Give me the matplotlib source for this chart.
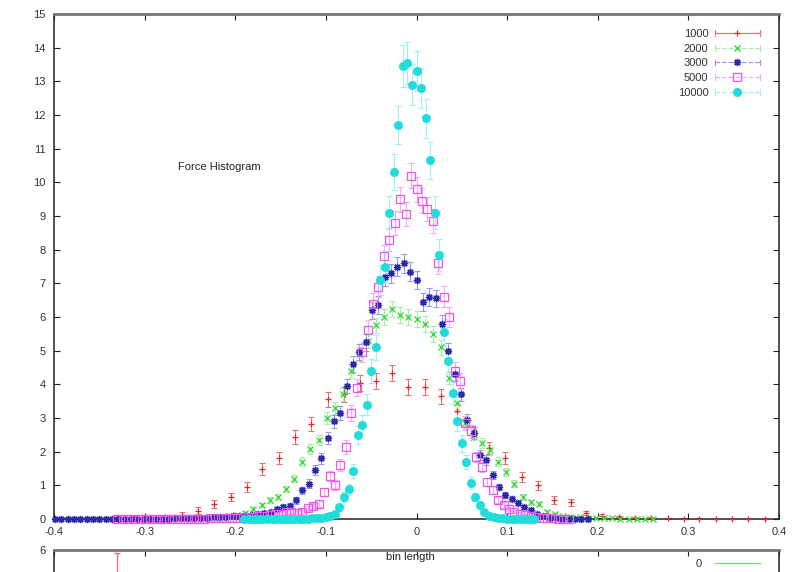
import matplotlib
matplotlib.use("Agg")
import matplotlib.pyplot as plt
from matplotlib.lines import Line2D
from matplotlib.legend_handler import HandlerBase

plt.rcParams['font.family'] = ['Liberation Sans', 'DejaVu Sans']

# ---------------- data ----------------
x_1000 = [-0.384, -0.366, -0.348, -0.330, -0.312, -0.295, -0.277, -0.259, -0.241, -0.223,
          -0.205, -0.187, -0.170, -0.152, -0.134, -0.116, -0.098, -0.080, -0.062, -0.045,
          -0.027, -0.009, 0.009, 0.027, 0.045, 0.062, 0.080, 0.098, 0.116, 0.134,
          0.152, 0.170, 0.187, 0.205, 0.223, 0.241, 0.259, 0.277, 0.295, 0.312,
          0.330, 0.348, 0.366, 0.384]
y_1000 = [0, 0, 0.01, 0.02, 0.03, 0.04, 0.07, 0.12, 0.25, 0.45,
          0.65, 0.95, 1.48, 1.81, 2.44, 2.82, 3.55, 3.7, 4.04, 4.1,
          4.34, 3.92, 3.92, 3.65, 3.2, 2.55, 2.1, 1.81, 1.25, 1.0,
          0.56, 0.5, 0.18, 0.09, 0.06, 0.04, 0.03, 0.02, 0.01, 0.01,
          0, 0, 0, 0]
e_1000 = [0.01, 0.01, 0.02, 0.03, 0.04, 0.05, 0.06, 0.08, 0.1, 0.12,
          0.13, 0.15, 0.17, 0.18, 0.2, 0.2, 0.22, 0.22, 0.23, 0.23,
          0.24, 0.23, 0.23, 0.22, 0.21, 0.2, 0.18, 0.17, 0.15, 0.14,
          0.11, 0.1, 0.07, 0.05, 0.04, 0.03, 0.03, 0.02, 0.02, 0.02,
          0.01, 0.01, 0.01, 0.01]

x_2000 = [-0.297, -0.288, -0.279, -0.270, -0.261, -0.252, -0.243, -0.234, -0.225, -0.216,
          -0.207, -0.198, -0.189, -0.180, -0.171, -0.162, -0.153, -0.144, -0.135, -0.126,
          -0.117, -0.108, -0.099, -0.090, -0.081, -0.072, -0.063, -0.054, -0.045, -0.036,
          -0.027, -0.018, -0.009, 0.000, 0.009, 0.018, 0.027, 0.036, 0.045, 0.054,
          0.063, 0.072, 0.081, 0.090, 0.099, 0.108, 0.117, 0.126, 0.135, 0.144,
          0.153, 0.162, 0.171, 0.180, 0.189, 0.198, 0.207, 0.216, 0.225, 0.234,
          0.243, 0.252, 0.261]
y_2000 = [0, 0, 0.01, 0.01, 0.02, 0.02, 0.03, 0.04, 0.05, 0.07,
          0.1, 0.13, 0.18, 0.3, 0.42, 0.56, 0.65, 0.89, 1.2, 1.7,
          2.08, 2.35, 3.0, 3.3, 3.7, 4.4, 4.9, 5.3, 5.75, 6.0,
          6.25, 6.05, 6.0, 5.95, 5.8, 5.5, 5.1, 4.2, 3.45, 2.85,
          2.5, 2.25, 2.05, 1.7, 1.4, 1.05, 0.65, 0.5, 0.45, 0.22,
          0.15, 0.1, 0.07, 0.05, 0.04, 0.03, 0.03, 0.02, 0.01, 0.01,
          0, 0, 0]
e_2000 = [0.01, 0.01, 0.01, 0.01, 0.02, 0.02, 0.02, 0.03, 0.03, 0.03,
          0.04, 0.05, 0.05, 0.06, 0.07, 0.08, 0.09, 0.1, 0.11, 0.13,
          0.14, 0.15, 0.17, 0.18, 0.19, 0.2, 0.21, 0.22, 0.23, 0.24,
          0.24, 0.24, 0.24, 0.24, 0.24, 0.23, 0.22, 0.2, 0.18, 0.17,
          0.16, 0.15, 0.14, 0.13, 0.12, 0.1, 0.08, 0.07, 0.07, 0.05,
          0.04, 0.03, 0.03, 0.02, 0.02, 0.02, 0.02, 0.01, 0.01, 0.01,
          0.01, 0.01, 0.01]

x_3000 = [-0.399, -0.392, -0.385, -0.378, -0.371, -0.364, -0.357, -0.350, -0.343, -0.336,
          -0.329, -0.322, -0.315, -0.308, -0.301, -0.294, -0.287, -0.280, -0.273, -0.266,
          -0.259, -0.252, -0.245, -0.238, -0.231, -0.224, -0.217, -0.210, -0.203, -0.196,
          -0.189, -0.182, -0.175, -0.168, -0.161, -0.154, -0.147, -0.140, -0.133, -0.126,
          -0.119, -0.112, -0.105, -0.098, -0.091, -0.084, -0.077, -0.070, -0.063, -0.056,
          -0.049, -0.042, -0.035, -0.028, -0.021, -0.014, -0.007, 0.000, 0.007, 0.014,
          0.021, 0.028, 0.035, 0.042, 0.049, 0.056, 0.063, 0.070, 0.077, 0.084,
          0.091, 0.098, 0.105, 0.112, 0.119, 0.126, 0.133, 0.140, 0.147, 0.154,
          0.161, 0.168, 0.175, 0.182, 0.189]
y_3000 = [0, 0, 0, 0, 0, 0, 0, 0, 0, 0,
          0, 0, 0.01, 0, 0.01, 0.01, 0.01, 0.01, 0.01, 0.02,
          0.02, 0.02, 0.03, 0.03, 0.04, 0.05, 0.06, 0.07, 0.08, 0.09,
          0.1, 0.12, 0.15, 0.17, 0.2, 0.3, 0.36, 0.4, 0.55, 0.85,
          1.05, 1.45, 1.8, 2.4, 2.9, 3.15, 3.95, 4.6, 4.95, 5.25,
          6.2, 6.35, 7.2, 7.3, 7.5, 7.6, 7.35, 7.1, 6.45, 6.6,
          6.55, 5.8, 5.0, 4.3, 3.7, 2.95, 2.55, 1.9, 1.75, 1.3,
          0.95, 0.7, 0.6, 0.48, 0.36, 0.27, 0.15, 0.08, 0.04, 0.02,
          0.01, 0.01, 0, 0, 0]
e_3000 = [0, 0, 0, 0, 0, 0, 0, 0, 0, 0,
          0, 0, 0.01, 0, 0.01, 0.01, 0.01, 0.01, 0.01, 0.01,
          0.01, 0.01, 0.02, 0.02, 0.02, 0.02, 0.03, 0.03, 0.03, 0.03,
          0.04, 0.04, 0.05, 0.05, 0.06, 0.07, 0.08, 0.08, 0.09, 0.11,
          0.13, 0.14, 0.16, 0.18, 0.19, 0.2, 0.22, 0.23, 0.24, 0.25,
          0.26, 0.27, 0.28, 0.28, 0.28, 0.28, 0.28, 0.27, 0.26, 0.26,
          0.26, 0.25, 0.23, 0.21, 0.2, 0.18, 0.17, 0.14, 0.14, 0.12,
          0.1, 0.09, 0.08, 0.07, 0.06, 0.05, 0.04, 0.03, 0.02, 0.01,
          0.01, 0.01, 0, 0, 0]

x_5000 = [-0.330, -0.324, -0.318, -0.312, -0.306, -0.300, -0.294, -0.288, -0.282, -0.276,
          -0.270, -0.264, -0.258, -0.252, -0.246, -0.240, -0.234, -0.228, -0.222, -0.216,
          -0.210, -0.204, -0.198, -0.192, -0.186, -0.180, -0.174, -0.168, -0.162, -0.156,
          -0.150, -0.144, -0.138, -0.132, -0.126, -0.120, -0.114, -0.108, -0.102, -0.096,
          -0.090, -0.084, -0.078, -0.072, -0.066, -0.060, -0.054, -0.048, -0.042, -0.036,
          -0.030, -0.024, -0.018, -0.012, -0.006, 0.000, 0.006, 0.012, 0.018, 0.024,
          0.030, 0.036, 0.042, 0.048, 0.054, 0.060, 0.066, 0.072, 0.078, 0.084,
          0.090, 0.096, 0.102, 0.108, 0.114, 0.120, 0.126, 0.132, 0.138, 0.144,
          0.150, 0.156, 0.162, 0.168]
y_5000 = [0, 0, 0, 0, 0, 0, 0, 0, 0, 0,
          0, 0, 0, 0.01, 0.01, 0.01, 0.01, 0.02, 0.02, 0.02,
          0.03, 0.03, 0.04, 0.05, 0.05, 0.06, 0.08, 0.1, 0.12, 0.14,
          0.16, 0.2, 0.22, 0.18, 0.2, 0.32, 0.4, 0.45, 0.8, 1.28,
          1.0, 1.6, 2.14, 3.15, 3.9, 4.95, 5.6, 6.4, 6.9, 7.8,
          8.3, 8.8, 9.5, 9.05, 10.2, 9.8, 9.45, 9.2, 8.85, 7.6,
          6.6, 6.0, 4.4, 4.1, 2.85, 2.6, 1.84, 1.55, 1.1, 0.86,
          0.56, 0.42, 0.3, 0.22, 0.16, 0.12, 0.09, 0.06, 0.04, 0.03,
          0.02, 0.01, 0.01, 0]
e_5000 = [0, 0, 0, 0, 0, 0, 0, 0, 0, 0,
          0, 0, 0, 0.01, 0.01, 0.01, 0.01, 0.02, 0.02, 0.02,
          0.02, 0.02, 0.03, 0.03, 0.03, 0.03, 0.04, 0.04, 0.05, 0.05,
          0.06, 0.06, 0.07, 0.06, 0.06, 0.08, 0.09, 0.1, 0.13, 0.16,
          0.15, 0.18, 0.2, 0.23, 0.25, 0.28, 0.3, 0.31, 0.32, 0.34,
          0.35, 0.36, 0.37, 0.36, 0.38, 0.37, 0.37, 0.36, 0.36, 0.33,
          0.31, 0.3, 0.26, 0.25, 0.2, 0.19, 0.16, 0.15, 0.12, 0.11,
          0.09, 0.08, 0.06, 0.05, 0.04, 0.04, 0.03, 0.02, 0.02, 0.02,
          0.01, 0.01, 0.01, 0]

x_10000 = [-0.190, -0.185, -0.180, -0.175, -0.170, -0.165, -0.160, -0.155, -0.150, -0.145,
           -0.140, -0.135, -0.130, -0.125, -0.120, -0.115, -0.110, -0.105, -0.100, -0.095,
           -0.090, -0.085, -0.080, -0.075, -0.070, -0.065, -0.060, -0.055, -0.050, -0.045,
           -0.040, -0.035, -0.030, -0.025, -0.020, -0.015, -0.010, -0.005, 0.000, 0.005,
           0.010, 0.015, 0.020, 0.025, 0.030, 0.035, 0.040, 0.045, 0.050, 0.055,
           0.060, 0.065, 0.070, 0.075, 0.080, 0.085, 0.090, 0.095, 0.100, 0.105,
           0.110, 0.115, 0.120, 0.125, 0.130]
y_10000 = [0, 0, 0, 0, 0, 0, 0, 0, 0, 0,
           0, 0, 0, 0.01, 0.01, 0.02, 0.02, 0.03, 0.05, 0.08,
           0.15, 0.35, 0.65, 0.88, 1.42, 2.5, 2.8, 3.4, 4.4, 5.1,
           7.1, 7.5, 9.1, 10.3, 11.7, 13.45, 13.55, 12.9, 13.3, 12.8,
           11.9, 10.65, 9.1, 7.85, 5.55, 4.7, 3.75, 2.9, 2.25, 1.7,
           1.07, 0.65, 0.42, 0.22, 0.1, 0.05, 0.03, 0.02, 0.01, 0.01,
           0, 0, 0, 0, 0]
e_10000 = [0, 0, 0, 0, 0, 0, 0, 0, 0, 0,
           0, 0, 0, 0.01, 0.01, 0.02, 0.02, 0.03, 0.04, 0.05,
           0.07, 0.1, 0.14, 0.16, 0.2, 0.27, 0.28, 0.3, 0.35, 0.37,
           0.44, 0.45, 0.5, 0.53, 0.57, 0.62, 0.62, 0.6, 0.6, 0.6,
           0.57, 0.54, 0.5, 0.47, 0.39, 0.36, 0.32, 0.28, 0.25, 0.21,
           0.17, 0.13, 0.11, 0.08, 0.05, 0.04, 0.03, 0.02, 0.02, 0.02,
           0, 0, 0, 0, 0]

labels = ["1000", "2000", "3000", "5000", "10000"]
x_ticks = [-0.4, -0.3, -0.2, -0.1, 0.0, 0.1, 0.2, 0.3, 0.4]
x_tick_labels = ["-0.4", "-0.3", "-0.2", "-0.1", "0", "0.1", "0.2", "0.3", "0.4"]
y_ticks = list(range(0, 16))

# lower (cut-off) panel
x_lower = [-0.330]
y_lower = [5.3]
e_lower = [0.63]
lower_y_ticks = [0, 1, 2, 3, 4, 5, 6]
lower_y_tick_labels = ["", "", "", "", "", "", "6"]

# ---------------- style ----------------
series = [
    (x_1000, y_1000, e_1000, dict(color='#dd2a2a', ecolor='#e87070', marker='+', ms=4.5, mew=0.9, mfc='#dd2a2a', ls='-')),
    (x_2000, y_2000, e_2000, dict(color='#3fd83f', ecolor='#a8eea8', marker='x', ms=4.5, mew=1.0, mfc='#3fd83f', ls=(0, (4, 2)))),
    (x_3000, y_3000, e_3000, dict(color='#2a2aa8', ecolor='#9a9ae6', marker=(8, 2, 0), ms=5.2, mew=1.0, mfc='#2a2aa8', ls=(0, (2, 2)))),
    (x_5000, y_5000, e_5000, dict(color='#ee55ee', ecolor='#f5a8f5', marker='s', ms=5.2, mew=0.9, mfc='none', ls=(0, (5, 2, 1, 2)))),
    (x_10000, y_10000, e_10000, dict(color='#22dcdc', ecolor='#9ff0f0', marker='o', ms=6.0, mew=0.5, mfc='#22dcdc', ls=(0, (3, 2)))),
]

W, H = 796, 572
fig = plt.figure(figsize=(W / 100, H / 100), dpi=100)
fig.patch.set_facecolor('white')

L, R, T, B = 54, 779, 14, 519
ax = fig.add_axes([L / W, 1 - B / H, (R - L) / W, (B - T) / H])

handles = []
for xs, ys, es, st in series:
    cont = ax.errorbar(xs, ys, yerr=es, fmt='none', ecolor=st['ecolor'], elinewidth=0.8,
                       capsize=2.2, capthick=0.8, zorder=2)
    for a in cont.lines[1]:
        a.set_clip_on(False)
    for a in cont.lines[2]:
        a.set_clip_on(False)
    ax.plot(xs, ys, linestyle='none', marker=st['marker'], ms=st['ms'], mew=st['mew'],
            color=st['color'], mfc=st['mfc'], mec=st['color'], clip_on=False, zorder=3)
    handles.append(Line2D([], [], color=st['ecolor'], ls=st['ls'], lw=0.9,
                          marker=st['marker'], ms=st['ms'], mew=st['mew'],
                          mfc=st['mfc'], mec=st['color']))


class GnuHandler(HandlerBase):
    def create_artists(self, legend, orig, xd, yd, w, h, fs, trans):
        y = yd + h / 2
        line = Line2D([xd, xd + w], [y, y], color=orig.get_color(), ls=orig.get_linestyle(),
                      lw=orig.get_linewidth())
        c1 = Line2D([xd, xd], [y - h * 0.35, y + h * 0.35], color=orig.get_color(), lw=0.8)
        c2 = Line2D([xd + w, xd + w], [y - h * 0.35, y + h * 0.35], color=orig.get_color(), lw=0.8)
        mk = Line2D([xd + w / 2], [y], ls='none', marker=orig.get_marker(), ms=orig.get_markersize(),
                    mew=orig.get_markeredgewidth(), mfc=orig.get_markerfacecolor(),
                    mec=orig.get_markeredgecolor())
        arts = [line, c1, c2, mk]
        for a in arts:
            a.set_transform(trans)
        return arts


leg = ax.legend(handles, labels, loc='upper right', bbox_to_anchor=(0.987, 0.99),
                frameon=False, markerfirst=False, handlelength=4.0, handletextpad=0.6,
                labelspacing=0.42, fontsize=8, handler_map={Line2D: GnuHandler()})
for t in leg.get_texts():
    t.set_color('#333333')

ax.text(-0.218, 10.45, "Force Histogram", ha='center', va='center', fontsize=8, color='#222222')

ax.set_xlim(-0.4, 0.4)
ax.set_ylim(0, 15)
ax.set_xticks(x_ticks)
ax.set_xticklabels(x_tick_labels)
ax.set_yticks(y_ticks)
ax.tick_params(direction='in', length=4, width=0.8, top=True, right=True,
               labelsize=8, labelcolor='#333333', color='#222222', pad=6)
for s in ['left', 'bottom', 'right']:
    ax.spines[s].set_linewidth(1.1)
    ax.spines[s].set_color('#222222')
ax.spines['top'].set_linewidth(2.0)
ax.spines['top'].set_color('#777777')

# lower panel (mostly outside the figure)
ax2 = fig.add_axes([L / W, 1 - 550 / H - 0.5, (R - L) / W, 0.5])
ax2.errorbar(x_lower, y_lower, yerr=e_lower, fmt='+', color='#dd2a2a', ecolor='#e87070',
             elinewidth=0.9, capsize=2.2, ms=4.5)
gl = Line2D([], [], color='#7be07b', lw=1.0)
leg2 = ax2.legend([gl], ["0"], loc='upper right', bbox_to_anchor=(0.987, 1.005),
                  frameon=False, markerfirst=False, handlelength=4.0, handletextpad=1.2,
                  fontsize=8)
for t in leg2.get_texts():
    t.set_color('#333333')
ax2.set_xlim(-0.4, 0.4)
ax2.set_ylim(0, 6)
ax2.set_yticks(lower_y_ticks)
ax2.set_yticklabels(lower_y_tick_labels)
ax2.set_xticks(x_ticks)
ax2.set_xticklabels([])
ax2.tick_params(direction='in', length=4, width=0.8, top=True, right=True,
                labelsize=8, labelcolor='#333333', color='#222222', pad=6)
for s in ['left', 'bottom', 'right']:
    ax2.spines[s].set_linewidth(1.1)
    ax2.spines[s].set_color('#222222')
ax2.spines['top'].set_linewidth(2.0)
ax2.spines['top'].set_color('#777777')

fig.text(410 / W, 1 - 557 / H, "bin length", ha='center', va='center', fontsize=8,
         color='#222222', zorder=10)

fig.savefig('out.png', dpi=100)
